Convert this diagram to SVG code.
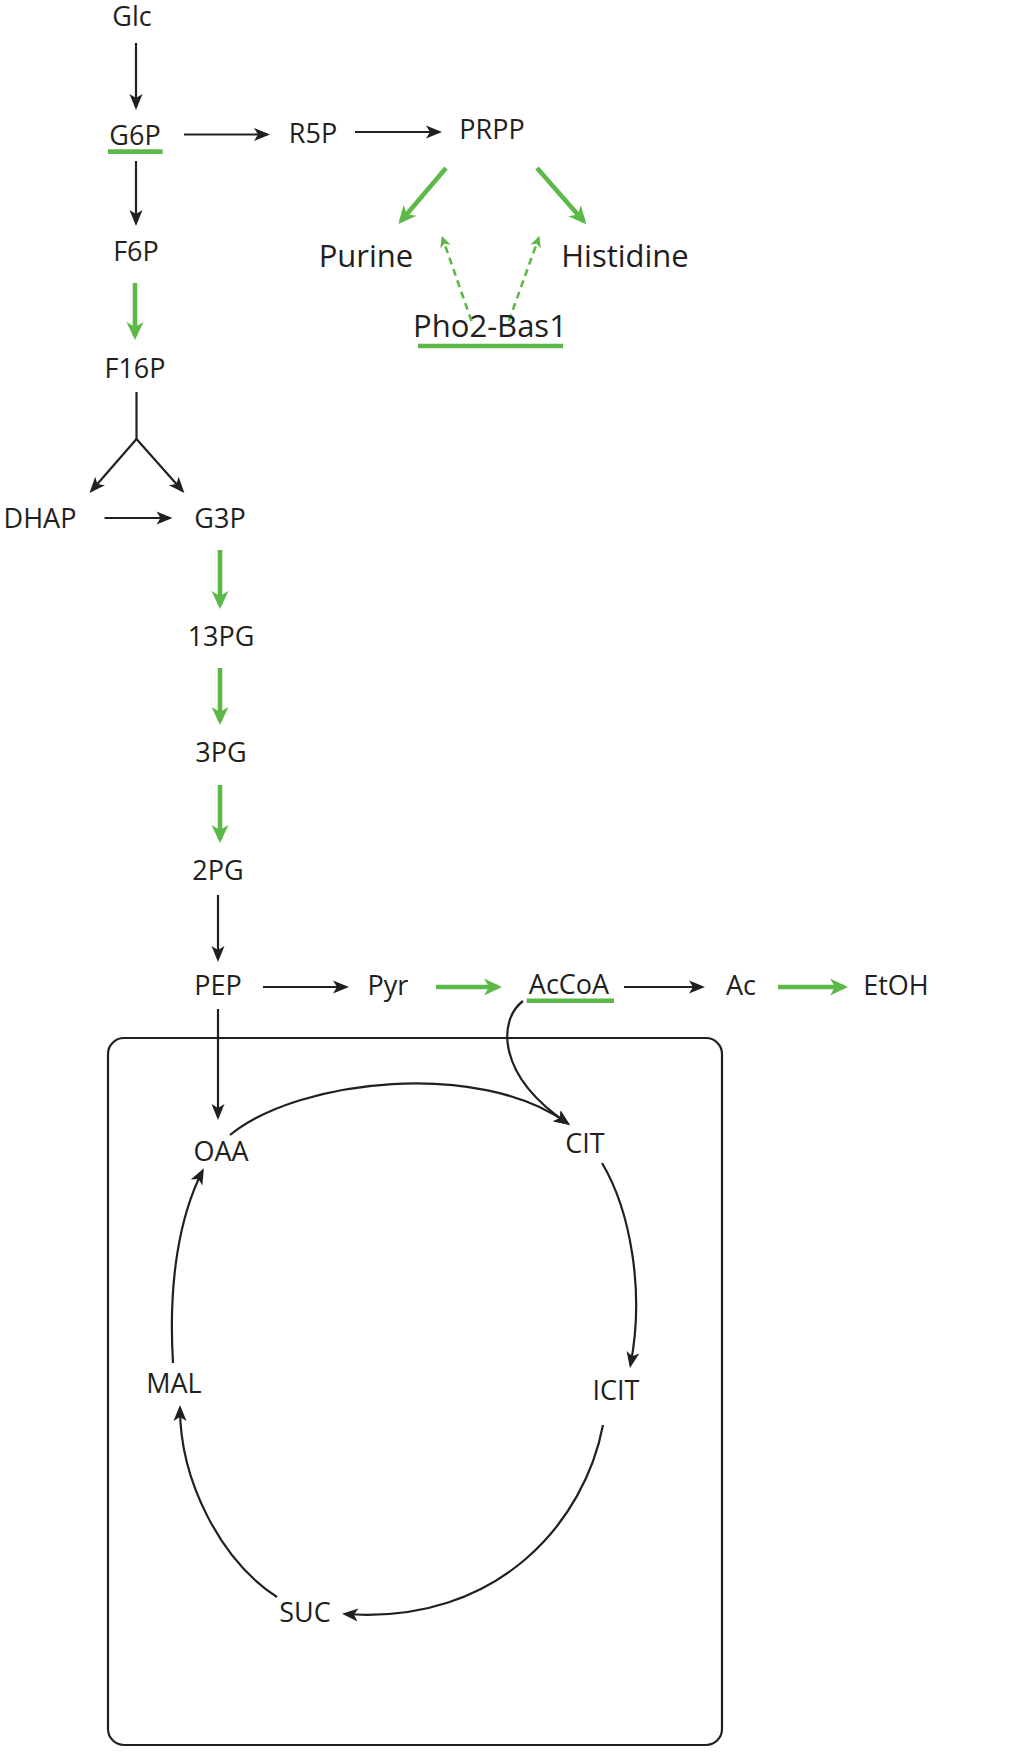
<svg xmlns="http://www.w3.org/2000/svg" width="1030" height="1752" viewBox="0 0 1030 1752">
<style>
text{font-family:"Open Sans","Liberation Sans",sans-serif;font-size:27px;fill:#231f20;text-anchor:middle}
text.big{font-size:31px}
.k{fill:none;stroke:#231f20;stroke-width:2.2}
.ka{fill:none;stroke:#231f20;stroke-width:2.2;marker-end:url(#ak)}
.g{fill:none;stroke:#5db947;stroke-width:4.6;marker-end:url(#ag)}
.gd{fill:none;stroke:#5db947;stroke-width:2.6;stroke-dasharray:7 5;marker-end:url(#agd)}
.ul{stroke:#5db947;stroke-width:4.6}
.box{fill:none;stroke:#231f20;stroke-width:2.2}
</style>
<defs>
<marker id="ak" markerUnits="userSpaceOnUse" orient="auto" refX="-3" refY="0" markerWidth="20" markerHeight="20" overflow="visible">
<path d="M0,0 L-16,-6.5 L-12,0 L-16,6.5 Z" fill="#231f20"/>
</marker>
<marker id="ag" markerUnits="userSpaceOnUse" orient="auto" refX="-4" refY="0" markerWidth="20" markerHeight="20" overflow="visible">
<path d="M0,0 L-18,-8.5 L-13,0 L-18,8.5 Z" fill="#5db947"/>
</marker>
<marker id="agd" markerUnits="userSpaceOnUse" orient="auto" refX="-2" refY="0" markerWidth="20" markerHeight="20" overflow="visible">
<path d="M0,0 L-11,-5.5 L-8,0 L-11,5.5 Z" fill="#5db947"/>
</marker>
</defs>
<rect class="box" x="108" y="1038" width="614" height="707" rx="16"/>
<g id="connectors">
<line class="ka" x1="136" y1="43" x2="136" y2="107"/>
<line class="ka" x1="184" y1="134.5" x2="267" y2="134.5"/>
<line class="ka" x1="355" y1="132" x2="439" y2="132"/>
<line class="ka" x1="136" y1="161" x2="136" y2="223"/>
<line class="g" x1="135" y1="283" x2="135" y2="336"/>
<line class="k" x1="136.5" y1="392" x2="136.5" y2="439.5"/>
<line class="ka" x1="136.5" y1="439" x2="91.5" y2="490.7"/>
<line class="ka" x1="136.5" y1="439" x2="182.4" y2="490.7"/>
<line class="ka" x1="104.5" y1="518" x2="169.5" y2="518"/>
<line class="g" x1="220" y1="550" x2="220" y2="605"/>
<line class="g" x1="220" y1="668" x2="220" y2="721"/>
<line class="g" x1="220" y1="785" x2="220" y2="839"/>
<line class="ka" x1="218" y1="895" x2="218" y2="959"/>
<line class="ka" x1="263" y1="987" x2="346" y2="987"/>
<line class="g" x1="436" y1="987" x2="498" y2="987"/>
<line class="ka" x1="624" y1="987" x2="702" y2="987"/>
<line class="g" x1="778" y1="987" x2="844" y2="987"/>
<line class="g" x1="446" y1="168" x2="401" y2="221"/>
<line class="g" x1="537" y1="168" x2="583.7" y2="221.3"/>
<line class="gd" x1="471.5" y1="321" x2="442.5" y2="238"/>
<line class="gd" x1="508.8" y1="321" x2="538.7" y2="238"/>
<line class="ka" x1="218" y1="1009" x2="218" y2="1117"/>
<path class="ka" d="M523,1001 C498,1020 496,1075 567.5,1123.3"/>
<path class="ka" d="M230,1135 C300,1078 480,1060 567.5,1123.3"/>
<path class="ka" d="M602,1163 C630,1210 645,1290 630.5,1365"/>
<path class="ka" d="M603,1425 C585,1520 500,1625 345,1614"/>
<path class="ka" d="M277,1597 C220,1560 180,1480 180,1408"/>
<path class="ka" d="M173,1363 C168,1280 180,1215 202.5,1171"/>
</g>
<g id="n-glc"><text x="132" y="26">Glc</text></g>
<g id="n-g6p"><text x="135" y="145">G6P</text><line class="ul" x1="108" y1="151.6" x2="162.6" y2="151.6"/></g>
<g id="n-r5p"><text x="313" y="143">R5P</text></g>
<g id="n-prpp"><text x="492" y="139">PRPP</text></g>
<g id="n-purine"><text class="big" x="366" y="267">Purine</text></g>
<g id="n-histidine"><text class="big" x="625" y="267">Histidine</text></g>
<g id="n-pho2bas1"><text class="big" x="490" y="337">Pho2-Bas1</text><line class="ul" x1="418" y1="346" x2="563" y2="346"/></g>
<g id="n-f6p"><text x="136" y="261">F6P</text></g>
<g id="n-f16p"><text x="135" y="377.5">F16P</text></g>
<g id="n-dhap"><text x="40" y="528">DHAP</text></g>
<g id="n-g3p"><text x="220" y="528">G3P</text></g>
<g id="n-13pg"><text x="221" y="646">13PG</text></g>
<g id="n-3pg"><text x="221" y="762">3PG</text></g>
<g id="n-2pg"><text x="218" y="880">2PG</text></g>
<g id="n-pep"><text x="218" y="995">PEP</text></g>
<g id="n-pyr"><text x="388" y="995">Pyr</text></g>
<g id="n-accoa"><text x="569" y="994">AcCoA</text><line class="ul" x1="526.7" y1="1000.7" x2="614" y2="1000.7"/></g>
<g id="n-ac"><text x="741" y="995">Ac</text></g>
<g id="n-etoh"><text x="896" y="995">EtOH</text></g>
<g id="n-oaa"><text x="221" y="1161">OAA</text></g>
<g id="n-cit"><text x="585" y="1153">CIT</text></g>
<g id="n-icit"><text x="616" y="1400">ICIT</text></g>
<g id="n-suc"><text x="305" y="1622">SUC</text></g>
<g id="n-mal"><text x="174" y="1393">MAL</text></g>
</svg>
